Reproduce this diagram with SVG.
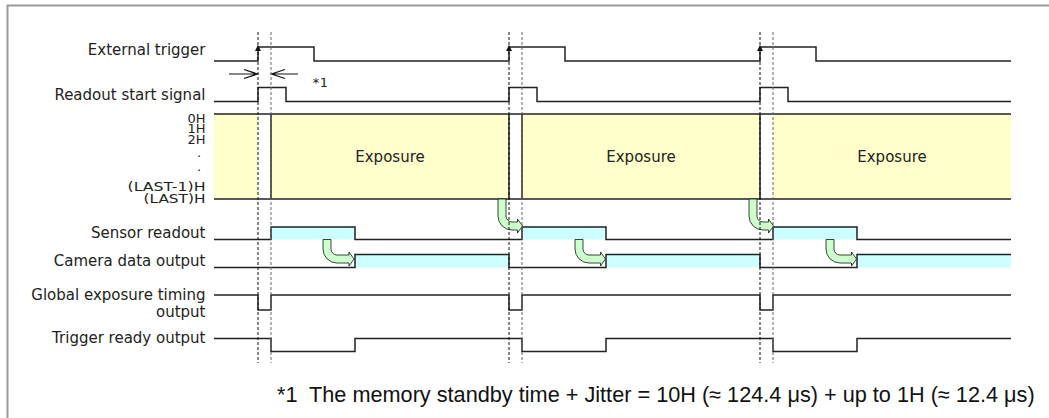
<svg xmlns="http://www.w3.org/2000/svg" width="1049" height="418" viewBox="0 0 1049 418">
<style>
.lbl{font-family:"DejaVu Sans",Verdana,sans-serif;font-size:15px;fill:#222;text-anchor:end}
.hl{font-family:"DejaVu Sans",Verdana,sans-serif;font-size:13px;fill:#222;text-anchor:end}
.ex{font-family:"DejaVu Sans",Verdana,sans-serif;font-size:15px;fill:#222;text-anchor:middle}
.sig{fill:none;stroke:#222;stroke-width:1.5}
.cy{fill:#CCFFFF}
.ye{fill:#FFFFCC}
.ga{fill:#CCFFCC;stroke:#111;stroke-width:0.8}
.dk{stroke:#111;stroke-width:1;stroke-dasharray:3 2}
.dg{stroke:#666;stroke-width:1;stroke-dasharray:3 2}
.ft{font-family:"Liberation Sans",Arial,sans-serif;font-size:21.7px;fill:#111}
</style>
<rect x="0" y="0" width="1049" height="418" fill="#fff"/>
<path d="M7.5,418 V5.5 H1049" fill="none" stroke="#9a9a9a" stroke-width="2"/>

<g id="external-trigger">
<text class="lbl" x="205.5" y="55">External trigger</text>
<path class="sig" d="M214,61 H258 V47 H314 V61 H509 V47 H565 V61 H760 V47 H816 V61 H1011"/>
<polygon points="255,51 258,45 261,51" fill="#111"/>
<polygon points="506,51 509,45 512,51" fill="#111"/>
<polygon points="757,51 760,45 763,51" fill="#111"/>
</g>

<g id="jitter-note">
<path d="M229,74 H257.5 M244,69.5 L257.5,74 L244,78.5" fill="none" stroke="#111" stroke-width="1.2"/>
<path d="M298,74 H271.5 M285,69.5 L271.5,74 L285,78.5" fill="none" stroke="#111" stroke-width="1.2"/>
<text x="312" y="87" style="font-family:'DejaVu Sans Mono','Liberation Mono',monospace;font-size:13px;fill:#222">*1</text>
</g>

<g id="readout-start-signal">
<text class="lbl" x="205.5" y="99.5">Readout start signal</text>
<path class="sig" d="M214,101.5 H258 V87.5 H286 V101.5 H509 V87.5 H537 V101.5 H760 V87.5 H788 V101.5 H1011"/>
</g>

<g id="exposure">
<rect class="ye" x="214" y="114" width="44" height="85"/>
<rect class="ye" x="271" y="114" width="238" height="85"/>
<rect class="ye" x="522" y="114" width="238" height="85"/>
<rect class="ye" x="773" y="114" width="238" height="85"/>
<path class="sig" d="M214,114 H1011 M214,199 H1011 M271,114 V199 M509,114 V199 M522,114 V199 M760,114 V199"/>
<text class="hl" x="205.5" y="122.5">0H</text>
<text class="hl" x="205.5" y="133">1H</text>
<text class="hl" x="205.5" y="143.5">2H</text>
<text class="hl" x="199" y="161" style="text-anchor:middle">·</text>
<text class="hl" x="199" y="174.5" style="text-anchor:middle">·</text>
<text class="hl" x="205.5" y="190.5" textLength="78" lengthAdjust="spacingAndGlyphs">(LAST-1)H</text>
<text class="hl" x="205.5" y="202.5" textLength="62" lengthAdjust="spacingAndGlyphs">(LAST)H</text>
<text class="ex" x="390" y="162">Exposure</text>
<text class="ex" x="641" y="162">Exposure</text>
<text class="ex" x="892" y="162">Exposure</text>
</g>

<g id="sensor-readout">
<text class="lbl" x="205.5" y="238.3">Sensor readout</text>
<rect class="cy" x="271" y="227" width="84" height="12.5"/>
<rect class="cy" x="522" y="227" width="84" height="12.5"/>
<rect class="cy" x="773" y="227" width="84" height="12.5"/>
<path class="sig" d="M214,239.5 H271 V227 H355 V239.5 H522 V227 H606 V239.5 H773 V227 H857 V239.5 H1011"/>
</g>

<g id="camera-data-output">
<text class="lbl" x="205.5" y="266">Camera data output</text>
<rect class="cy" x="355" y="254.5" width="154" height="13"/>
<rect class="cy" x="606" y="254.5" width="154" height="13"/>
<rect class="cy" x="857" y="254.5" width="154" height="13"/>
<path class="sig" d="M214,267.5 H355 V254.5 H509 V267.5 H606 V254.5 H760 V267.5 H857 V254.5 H1011"/>
</g>

<g id="global-exposure-timing-output">
<text class="lbl" x="205.5" y="299.5">Global exposure timing</text>
<text class="lbl" x="205.5" y="316.5">output</text>
<path class="sig" d="M214,295 H258 V310 H271 V295 H509 V310 H522 V295 H760 V310 H773 V295 H1011"/>
</g>

<g id="trigger-ready-output">
<text class="lbl" x="205.5" y="342.7">Trigger ready output</text>
<path class="sig" d="M214,338.5 H271 V351.5 H355 V338.5 H522 V351.5 H606 V338.5 H773 V351.5 H857 V338.5 H1011"/>
</g>

<g id="connectors">
<path class="ga" d="M498,199 V216 A14,14 0 0 0 512,230 H517.5 V233 L522.5,226 L517.5,219 V222 H512 A6,6 0 0 1 506,216 V199 Z"/>
<path class="ga" d="M749,199 V216 A14,14 0 0 0 763,230 H768.5 V233 L773.5,226 L768.5,219 V222 H763 A6,6 0 0 1 757,216 V199 Z"/>
<path class="ga" d="M323,239.5 V249 A14,14 0 0 0 337,263 H349 V266 L354,259 L349,252 V255 H337 A6,6 0 0 1 331,249 V239.5 Z"/>
<path class="ga" d="M575,239.5 V249 A14,14 0 0 0 589,263 H600.5 V266 L605.5,259 L600.5,252 V255 H589 A6,6 0 0 1 583,249 V239.5 Z"/>
<path class="ga" d="M826,239.5 V249 A14,14 0 0 0 840,263 H851.5 V266 L856.5,259 L851.5,252 V255 H840 A6,6 0 0 1 834,249 V239.5 Z"/>
<line class="dk" x1="258" y1="32" x2="258" y2="363"/>
<line class="dg" x1="271" y1="32" x2="271" y2="363"/>
<line class="dk" x1="509" y1="32" x2="509" y2="363"/>
<line class="dg" x1="522" y1="32" x2="522" y2="363"/>
<line class="dk" x1="760" y1="32" x2="760" y2="363"/>
<line class="dg" x1="773" y1="32" x2="773" y2="363"/>
</g>

<g id="footnote">
<text class="ft" x="277" y="401.7">*1</text>
<text class="ft" x="309" y="401.7">The memory standby time + Jitter = 10H (≈ 124.4 μs) + up to 1H (≈ 12.4 μs)</text>
</g>
</svg>
